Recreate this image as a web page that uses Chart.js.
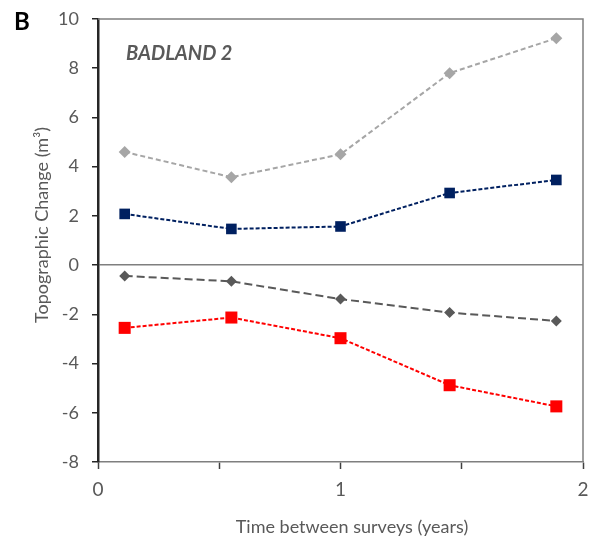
<!DOCTYPE html>
<html><head><meta charset="utf-8">
<script src="https://cdn.jsdelivr.net/npm/chart.js@4"></script>
<style>html,body{margin:0;padding:0;background:#fff}#wrap{width:595px;height:540px}</style>
</head><body><div id="wrap"><canvas id="c" width="595" height="540"></canvas></div>
<script>
const xYears = [0.11, 0.55, 1.0, 1.45, 1.89];
const grossGain = [4.6, 3.57, 4.5, 7.8, 9.22];
const netGain = [2.08, 1.47, 1.57, 2.93, 3.46];
const netLoss = [-0.44, -0.66, -1.38, -1.93, -2.27];
const grossLoss = [-2.55, -2.13, -2.97, -4.88, -5.74];
const yTicks = [-8, -6, -4, -2, 0, 2, 4, 6, 8, 10];
const xTickLabels = ['0', '1', '2'];
const panelLetter = 'B';
const siteLabel = 'BADLAND 2';
const xTitle = 'Time between surveys (years)';
const yTitle = 'Topographic Change (m³)';

const pts = arr => xYears.map((x, i) => ({x, y: arr[i]}));
const FONT = "Lato, 'Open Sans', sans-serif";

const framePlugin = {
  id: 'frame',
  afterDraw(chart) {
    const {ctx, chartArea: a} = chart;
    ctx.save();
    ctx.strokeStyle = '#7f7f7f';
    ctx.lineWidth = 1.5;
    ctx.beginPath();
    ctx.moveTo(a.left, a.top); ctx.lineTo(a.right, a.top); ctx.lineTo(a.right, a.bottom);
    ctx.stroke();
    // panel letter
    ctx.fillStyle = '#000';
    ctx.font = "bold 24px " + FONT;
    ctx.textBaseline = 'alphabetic';
    ctx.textAlign = 'left';
    ctx.fillText(panelLetter, 14, 30);
    // site label
    ctx.fillStyle = '#595959';
    ctx.font = "italic bold 20px " + FONT;
    ctx.fillText(siteLabel, 126, 60);
    // axis titles
    ctx.font = "18px " + FONT;
    ctx.textAlign = 'center';
    ctx.textBaseline = 'middle';
    ctx.fillText(xTitle, 352, 527);
    ctx.translate(42, 225);
    ctx.rotate(-Math.PI / 2);
    ctx.fillText(yTitle, 0, 0);
    ctx.restore();
  }
};

new Chart(document.getElementById('c'), {
  type: 'line',
  data: {
    datasets: [
      {data: pts(grossGain), borderColor: '#a6a6a6', backgroundColor: '#a6a6a6', borderWidth: 2, borderDash: [5, 3], pointStyle: 'rectRot', pointRadius: 6, pointHoverRadius: 6, pointBorderWidth: 0},
      {data: pts(netGain), borderColor: '#002060', backgroundColor: '#002060', borderWidth: 2, borderDash: [4, 2], pointStyle: 'rect', pointRadius: 7.5, pointHoverRadius: 7.5, pointBorderWidth: 0},
      {data: pts(netLoss), borderColor: '#595959', backgroundColor: '#595959', borderWidth: 2, borderDash: [8, 4], pointStyle: 'rectRot', pointRadius: 5.5, pointHoverRadius: 5.5, pointBorderWidth: 0},
      {data: pts(grossLoss), borderColor: '#ff0000', backgroundColor: '#ff0000', borderWidth: 2, borderDash: [4, 2], pointStyle: 'rect', pointRadius: 8.5, pointHoverRadius: 8.5, pointBorderWidth: 0}
    ]
  },
  options: {
    responsive: false,
    animation: false,
    layout: {padding: {left: 0, right: 12, top: 19, bottom: 0}},
    plugins: {legend: {display: false}, tooltip: {enabled: false}},
    scales: {
      x: {
        type: 'linear', min: 0, max: 2,
        afterFit(s) { s.height = 78; s.paddingLeft = 0; s.paddingRight = 0; },
        afterBuildTicks(s) { s.ticks = [0, 0.5, 1, 1.5, 2].map(v => ({value: v})); },
        ticks: {
          autoSkip: false, maxRotation: 0, padding: 9,
          color: '#595959', font: {family: FONT, size: 19},
          callback: v => Number.isInteger(v) ? xTickLabels[v] : ''
        },
        grid: {drawOnChartArea: false, drawTicks: true, tickLength: 7, tickColor: '#404040', tickWidth: 1.5},
        border: {color: '#7f7f7f', width: 1.5}
      },
      y: {
        type: 'linear', min: -8, max: 10,
        afterFit(s) { s.width = 98; s.paddingTop = 0; s.paddingBottom = 0; },
        afterBuildTicks(s) { s.ticks = yTicks.map(v => ({value: v})); },
        ticks: {color: '#595959', font: {family: FONT, size: 18}, padding: 13},
        grid: {
          drawOnChartArea: true, drawTicks: true, tickLength: 6,
          color: c => (c.tick && c.tick.value === 0) ? '#7f7f7f' : 'rgba(0,0,0,0)',
          lineWidth: 1.5, tickColor: '#262626', tickWidth: 1.5
        },
        border: {color: '#262626', width: 2.5}
      }
    }
  },
  plugins: [framePlugin]
});
</script></body></html>
